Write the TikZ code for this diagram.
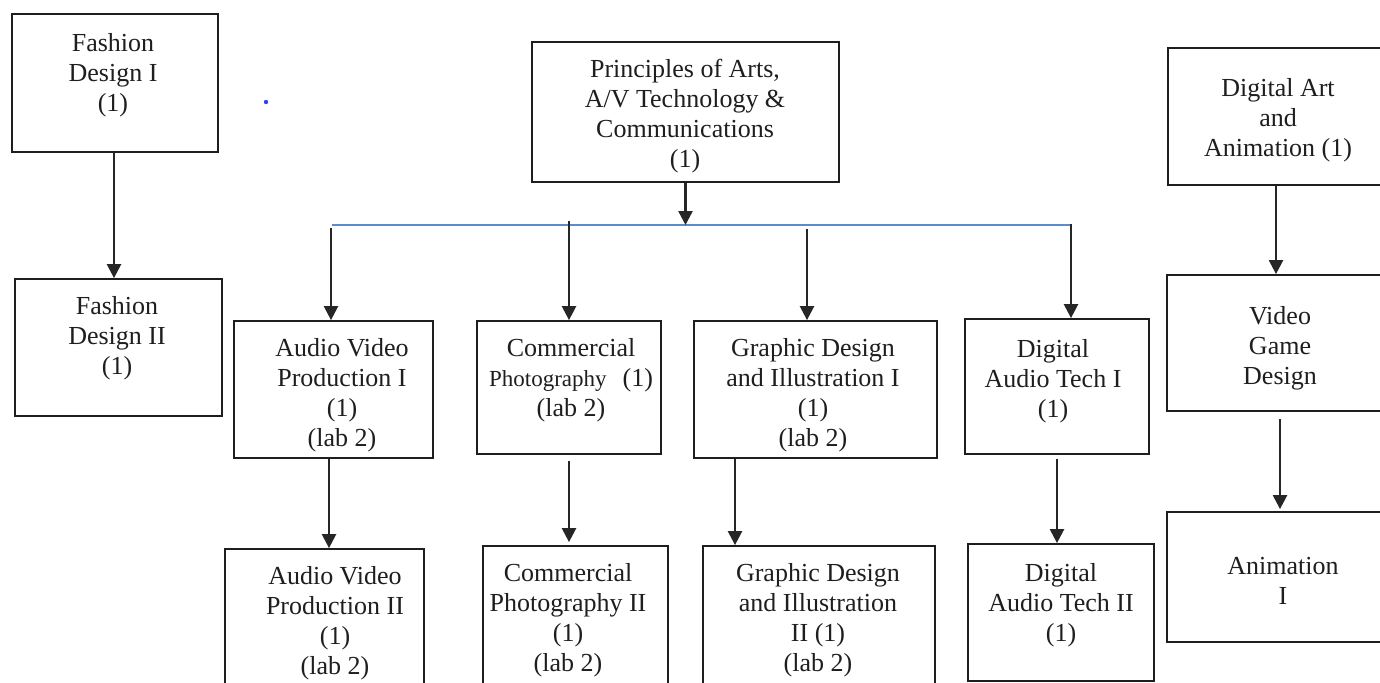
\documentclass[tikz,border=0pt]{standalone}
\usepackage{fontspec}
\setmainfont{Liberation Serif}
\usetikzlibrary{arrows.meta,fit}
\definecolor{busblue}{HTML}{5B8BC9}
\definecolor{ink}{HTML}{1E1E1E}
\definecolor{arrink}{HTML}{262626}
\definecolor{dotblue}{HTML}{3344EE}
\begin{document}
\begin{tikzpicture}[x=0.5pt,y=-0.5pt,
  box/.style={draw=ink, line width=0.9pt, inner sep=0pt},
  txt/.style={align=center, font=\fontsize{13pt}{15pt}\selectfont, text=ink, inner sep=0pt, yshift=-1.5pt},
  arr/.style={draw=arrink, line width=1.2pt, -{Triangle[width=7pt,length=7pt]}},
  bus/.style={draw=busblue, line width=0.8pt}]
\useasboundingbox (0,0) rectangle (1380,682);
\clip (0,0) rectangle (1380,682);

% boxes
\node[box, fit={(12,14) (218,152)}] (fd1) {};
\node[box, fit={(15,279) (222,416)}] (fd2) {};
\node[box, fit={(532,42) (839,182)}] (pr) {};
\node[box, fit={(1168,48) (1392,185)}] (da) {};
\node[box, fit={(234,321) (433,458)}] (av1) {};
\node[box, fit={(477,321) (661,454)}] (cp1) {};
\node[box, fit={(694,321) (937,458)}] (gd1) {};
\node[box, fit={(965,319) (1149,454)}] (dt1) {};
\node[box, fit={(1167,275) (1392,411)}] (vg) {};
\node[box, fit={(225,549) (424,700)}] (av2) {};
\node[box, fit={(483,546) (668,700)}] (cp2) {};
\node[box, fit={(703,546) (935,700)}] (gd2) {};
\node[box, fit={(968,544) (1154,681)}] (dt2) {};
\node[box, fit={(1167,512) (1392,642)}] (an) {};

% texts
\node[txt] (fd1t) at (113,72) {Fashion\\Design I\\(1)};
\node[txt] (fd2t) at (117,335) {Fashion\\Design II\\(1)};
\node[txt] (prt) at (685,113) {Principles of Arts,\\A/V Technology \&\\Communications\\(1)};
\node[txt] (dat) at (1278,117) {Digital Art\\and\\Animation (1)};
\node[txt] (vgt) at (1280,345) {Video\\Game\\Design};
\node[txt] (ant) at (1283,578) {Animation\\I};
\node[txt] (av1t) at (342,392) {Audio Video\\Production I\\(1)\\(lab 2)};
\node[txt] (cp1t) at (571,377) {Commercial\\{\fontsize{11.5pt}{15pt}\selectfont Photography}\hspace{8pt}(1)\\(lab 2)};
\node[txt] (gd1t) at (813,392) {Graphic Design\\and Illustration I\\(1)\\(lab 2)};
\node[txt] (dt1t) at (1053,378) {Digital\\Audio Tech I\\(1)};
\node[txt] (av2t) at (335,620) {Audio Video\\Production II\\(1)\\(lab 2)};
\node[txt] (cp2t) at (568,617) {Commercial\\Photography II\\(1)\\(lab 2)};
\node[txt] (gd2t) at (818,617) {Graphic Design\\and Illustration\\II (1)\\(lab 2)};
\node[txt] (dt2t) at (1061,602) {Digital\\Audio Tech II\\(1)};

% stray dot
\fill[dotblue] (266,102) circle (1.1pt);

% bus
\coordinate (bL) at (332,225);
\coordinate (bR) at (1070,225);
\coordinate (d1) at (331,228);
\coordinate (d2) at (569,221);
\coordinate (d3) at (807,229);
\coordinate (d4) at (1071,224);
\draw[bus] (bL) -- (bR);
\draw[arr] (pr.south) -- (pr.south |- bL);
\draw[arr] (d1) -- (d1 |- av1.north);
\draw[arr] (d2) -- (d2 |- cp1.north);
\draw[arr] (d3) -- (d3 |- gd1.north);
\draw[arr] (d4) -- (d4 |- dt1.north);

% column coordinates
\coordinate (cfd) at (114,0);
\coordinate (cav) at (329,0);
\coordinate (ccp) at (569,0);
\coordinate (cgd) at (735,0);
\coordinate (cdt) at (1057,0);
\coordinate (cda) at (1276,0);
\coordinate (cvg) at (1280,0);

\draw[arr] (fd1.south -| cfd) -- (fd2.north -| cfd);
\draw[arr] (av1.south -| cav) -- (av2.north -| cav);
\draw[arr, shorten <=3pt] (cp1.south -| ccp) -- ([yshift=1.5pt]cp2.north -| ccp);
\draw[arr] (gd1.south -| cgd) -- (gd2.north -| cgd);
\draw[arr, shorten <=2pt] (dt1.south -| cdt) -- (dt2.north -| cdt);
\draw[arr] (da.south -| cda) -- (vg.north -| cda);
\draw[arr, shorten <=3.5pt] (vg.south -| cvg) -- ([yshift=1pt]an.north -| cvg);
\end{tikzpicture}
\end{document}
